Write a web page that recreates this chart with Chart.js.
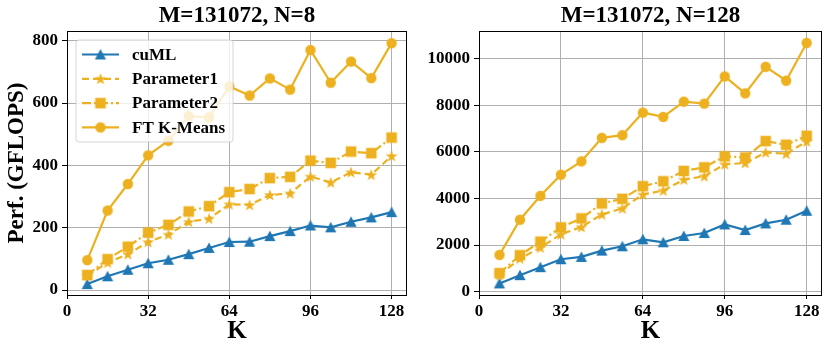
<!DOCTYPE html>
<html>
<head>
<meta charset="utf-8">
<script src="https://cdn.jsdelivr.net/npm/chart.js@4.4.0/dist/chart.umd.min.js"></script>
<style>
html, body { margin: 0; padding: 0; background: #fff; }
#wrap { position: relative; width: 831px; height: 353px; }
canvas { position: absolute; top: 0; }
#left { left: 0; }
#right { left: 415px; }
</style>
</head>
<body>
<div id="wrap">
<canvas id="left" width="415" height="353"></canvas>
<canvas id="right" width="416" height="353"></canvas>
</div>
<script>
// K values on the x axis
const kValues = [8, 16, 24, 32, 40, 48, 56, 64, 72, 80, 88, 96, 104, 112, 120, 128];
const seriesNames = ['cuML', 'Parameter1', 'Parameter2', 'FT K-Means'];

// M=131072, N=8
const cumlN8 = [19, 44, 65, 86, 97, 115, 135, 154, 155, 173, 189, 207, 201, 219, 233, 250];
const param1N8 = [46, 88, 115, 154, 178, 219, 229, 275, 273, 305, 310, 364, 345, 378, 370, 430];
const param2N8 = [48, 99, 139, 184, 209, 252, 269, 314, 324, 359, 363, 415, 408, 444, 439, 489];
const ftN8 = [96, 255, 340, 432, 479, 558, 554, 653, 624, 679, 643, 770, 665, 733, 680, 792];

// M=131072, N=128
const cumlN128 = [356, 711, 1053, 1394, 1494, 1764, 1949, 2248, 2120, 2390, 2518, 2888, 2646, 2930, 3087, 3471];
const param1N128 = [711, 1423, 1892, 2461, 2774, 3314, 3570, 4168, 4339, 4808, 4950, 5462, 5519, 5975, 5918, 6444];
const param2N128 = [797, 1565, 2148, 2760, 3144, 3784, 3983, 4524, 4737, 5178, 5334, 5804, 5760, 6458, 6302, 6686];
const ftN128 = [1579, 3087, 4111, 5021, 5590, 6600, 6714, 7682, 7497, 8151, 8066, 9232, 8507, 9645, 9047, 10669];

// tick labels
const xTicks = [0, 32, 64, 96, 128];
const yTicksN8 = [0, 200, 400, 600, 800];
const yTicksN128 = [0, 2000, 4000, 6000, 8000, 10000];

const BLUE = '#1f77b4';
const GOLD = '#edb120';
const FONT = "'Liberation Serif', 'DejaVu Serif', serif";

function markerImage(shape, color) {
    const c = document.createElement('canvas');
    c.width = 16;
    c.height = 16;
    const g = c.getContext('2d');
    const cx = 8, cy = 8;
    g.fillStyle = color;
    g.beginPath();
    if (shape === 'circle') {
        g.arc(cx, cy, 5.2, 0, Math.PI * 2);
    } else if (shape === 'square') {
        g.rect(cx - 5.3, cy - 5.3, 10.6, 10.6);
    } else if (shape === 'triangle') {
        g.moveTo(cx, cy - 5.6);
        g.lineTo(cx + 5.6, cy + 5);
        g.lineTo(cx - 5.6, cy + 5);
    } else if (shape === 'star') {
        for (let i = 0; i < 10; i++) {
            const r = i % 2 ? 2.5 : 6.3;
            const a = -Math.PI / 2 + i * Math.PI / 5;
            const px = cx + r * Math.cos(a), py = cy + 0.5 + r * Math.sin(a);
            if (i === 0) g.moveTo(px, py); else g.lineTo(px, py);
        }
    }
    g.closePath();
    g.fill();
    return c;
}

const styles = [
    { color: BLUE, marker: markerImage('triangle', BLUE), dash: [] },
    { color: GOLD, marker: markerImage('star', GOLD), dash: [7, 4] },
    { color: GOLD, marker: markerImage('square', GOLD), dash: [9, 3, 2, 3] },
    { color: GOLD, marker: markerImage('circle', GOLD), dash: [] }
];

const frame = {
    id: 'frame',
    afterDatasetsDraw(chart) {
        const a = chart.chartArea;
        const ctx = chart.ctx;
        ctx.save();
        ctx.strokeStyle = '#000';
        ctx.lineWidth = 1;
        ctx.strokeRect(Math.round(a.left) + 0.5, Math.round(a.top) + 0.5,
            Math.round(a.right - a.left) - 1, Math.round(a.bottom - a.top));
        ctx.restore();
    }
};

const innerLegend = {
    id: 'innerLegend',
    afterDatasetsDraw(chart, args, opts) {
        if (!opts.show) return;
        const ctx = chart.ctx;
        const a = chart.chartArea;
        const x = a.left + 9, y = a.top + 9, w = 157, h = 102;
        ctx.save();
        ctx.beginPath();
        ctx.roundRect(x, y, w, h, 3);
        ctx.fillStyle = 'rgba(255,255,255,0.8)';
        ctx.fill();
        ctx.strokeStyle = 'rgba(204,204,204,0.8)';
        ctx.lineWidth = 1;
        ctx.stroke();
        seriesNames.forEach((name, i) => {
            const st = styles[i];
            const cy = y + 14.5 + i * 24.3;
            ctx.beginPath();
            ctx.setLineDash(st.dash);
            ctx.strokeStyle = st.color;
            ctx.lineWidth = 2.2;
            ctx.moveTo(x + 6, cy);
            ctx.lineTo(x + 43, cy);
            ctx.stroke();
            ctx.setLineDash([]);
            ctx.drawImage(st.marker, x + 24.5 - 8, cy - 8);
            ctx.fillStyle = '#000';
            ctx.font = 'bold 17px ' + FONT;
            ctx.textBaseline = 'middle';
            ctx.fillText(name, x + 56, cy + 1);
        });
        ctx.restore();
    }
};

function makeSet(label, ys, i) {
    const st = styles[i];
    return {
        label: label,
        data: kValues.map((k, j) => ({ x: k, y: ys[j] })),
        borderColor: st.color,
        backgroundColor: st.color,
        borderWidth: 2.2,
        borderDash: st.dash,
        pointStyle: st.marker,
        pointRadius: 6,
        tension: 0,
        order: 3 - i
    };
}

function buildChart(id, series, opts) {
    return new Chart(document.getElementById(id), {
        type: 'line',
        data: {
            datasets: series.map((ys, i) => makeSet(seriesNames[i], ys, i))
        },
        options: {
            responsive: false,
            animation: false,
            events: [],
            layout: { padding: { left: 0, right: opts.padRight, top: 0, bottom: 0 } },
            plugins: {
                legend: { display: false },
                tooltip: { enabled: false },
                title: {
                    display: true,
                    fullSize: false,
                    text: opts.title,
                    color: '#000',
                    font: { family: FONT, size: 23, weight: 'bold', lineHeight: 1 },
                    padding: { top: 4.5, bottom: 3.5 }
                },
                innerLegend: { show: opts.legend }
            },
            scales: {
                x: {
                    type: 'linear',
                    min: 0,
                    max: 134,
                    afterBuildTicks: (s) => { s.ticks = xTicks.map(v => ({ value: v })); },
                    afterFit: (s) => { s.height = 58; },
                    border: { display: false },
                    grid: { color: '#b0b0b0', lineWidth: 1, tickColor: '#000', tickLength: 4 },
                    ticks: {
                        color: '#000',
                        padding: 2,
                        maxRotation: 0,
                        font: { family: FONT, size: 17, weight: 'bold' },
                        callback: (v) => String(v)
                    },
                    title: {
                        display: true,
                        text: 'K',
                        color: '#000',
                        font: { family: FONT, size: 25, weight: 'bold', lineHeight: 1 },
                        padding: { top: 0, bottom: 9 }
                    }
                },
                y: {
                    min: opts.yMin,
                    max: opts.yMax,
                    afterBuildTicks: (s) => { s.ticks = opts.yTicks.map(v => ({ value: v })); },
                    afterFit: (s) => { s.width = opts.yWidth; },
                    border: { display: false },
                    grid: { color: '#b0b0b0', lineWidth: 1, tickColor: '#000', tickLength: 5 },
                    ticks: {
                        color: '#000',
                        padding: 4,
                        font: { family: FONT, size: 17, weight: 'bold' },
                        callback: (v) => String(v)
                    },
                    title: {
                        display: opts.yTitle,
                        text: 'Perf. (GFLOPS)',
                        color: '#000',
                        font: { family: FONT, size: 23, weight: 'bold', lineHeight: 1 },
                        padding: { top: 6, bottom: 0 }
                    }
                }
            }
        },
        plugins: [frame, innerLegend]
    });
}

buildChart('left', [cumlN8, param1N8, param2N8, ftN8], {
    title: 'M=131072, N=8',
    yMin: -16, yMax: 831, yTicks: yTicksN8,
    yWidth: 67, padRight: 5, yTitle: true, legend: true
});

buildChart('right', [cumlN128, param1N128, param2N128, ftN128], {
    title: 'M=131072, N=128',
    yMin: -140, yMax: 11180, yTicks: yTicksN128,
    yWidth: 64, padRight: 9, yTitle: false, legend: false
});
</script>
</body>
</html>
